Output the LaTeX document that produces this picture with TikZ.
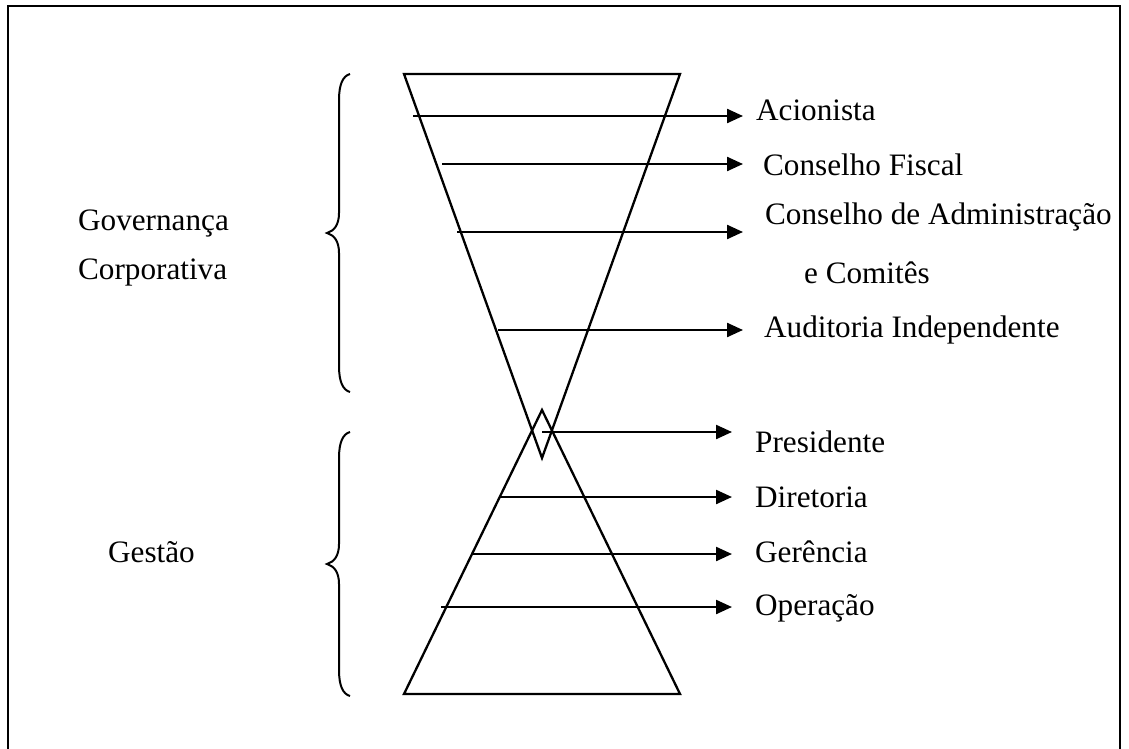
\documentclass[tikz,border=0pt]{standalone}
\usepackage{fontspec}
\setmainfont{Liberation Serif}
\usetikzlibrary{arrows.meta}
\tikzset{
	seta/.style={-{Triangle[length=16pt,width=14pt]}},
	rotulo/.style={anchor=base west, inner sep=0pt},
}
\begin{document}
\begin{tikzpicture}[x=1pt, y=-1pt, line width=2.3pt, font=\fontsize{31.2}{36}\selectfont]
	\useasboundingbox (0,0) rectangle (1129,749);
%frame
	\draw (8,749) -- (8,6) -- (1120,6) -- (1120,749);

%funnels
	\draw (404,74) -- (680,74) -- (542,458) -- cycle;
	\draw (542,410) -- (680,694) -- (404,694) -- cycle;

%braces
	\foreach \a/\b/\c in {74/233/392, 432/564/696}{
		\draw[line width=2pt] (350,\a) .. controls (343,\a+2) and (339,\a+10) .. (339,\a+26)
			-- (339,\b-20) .. controls (339,\b-8) and (334,\b-2) .. (327,\b)
			.. controls (334,\b+2) and (339,\b+8) .. (339,\b+20)
			-- (339,\c-26) .. controls (339,\c-10) and (343,\c-2) .. (350,\c);
	}

%labels
	\foreach \xy/\name/\txt in {{(77,230)/gov/Governança}, {(77,279)/corp/Corporativa}, {(107,562)/gest/Gestão},
		{(755,121)/acio/Acionista}, {(762,175)/fisc/Conselho Fiscal}, {(764,224)/adm/Conselho de Administração},
		{(803,283)/comi/e Comitês}, {(763,337)/audi/Auditoria Independente},
		{(754,452)/pres/Presidente}, {(754,507)/dire/Diretoria}, {(754,562)/gere/Gerência}, {(754,615)/oper/Operação}} {
		\node[rotulo] (\name) at \xy {\txt};
	}

%arrows
	\foreach \y/\xa/\xb/\name in {116/413/743/acio, 164/442/743/fisc, 232/457/743/adm, 330/498/743/audi,
		432/542/732/pres, 497/500/732/dire, 554/471/732/gere, 607/441/732/oper} {
		\coordinate (\name-a) at (\xa,\y);
		\coordinate (\name-b) at (\xb,\y);
		\draw[seta] (\name-a) -- (\name-b);
	}

\end{tikzpicture}
\end{document}
